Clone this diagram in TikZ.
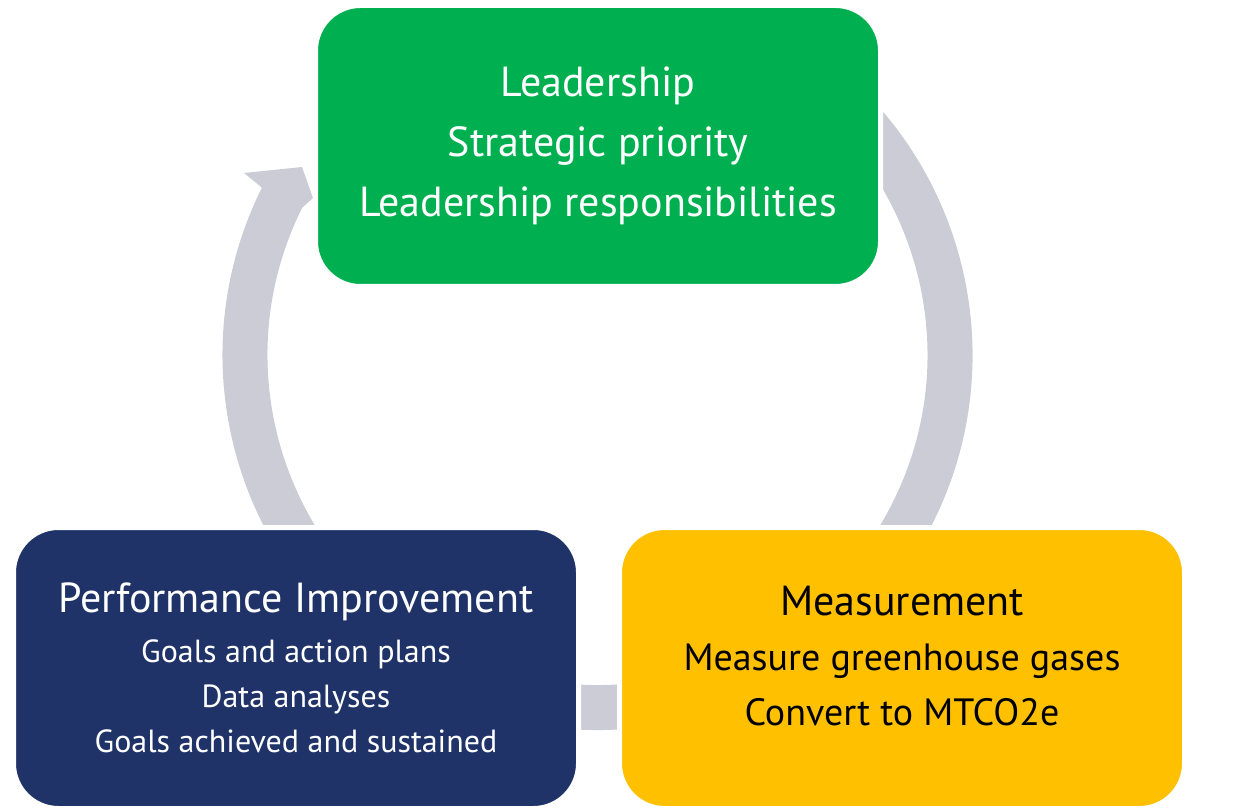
\documentclass[tikz,border=0pt]{standalone}
\usepackage{fontspec}
\setmainfont{PT Sans}
\usepackage{xcolor}
\usetikzlibrary{calc}
\definecolor{leadgreen}{HTML}{00B050}
\definecolor{perfnavy}{HTML}{1F3368}
\definecolor{measgold}{HTML}{FFC000}
\definecolor{cyclegray}{HTML}{CBCCD5}
\newcommand{\stagehead}{\fontsize{42}{50}\selectfont}

\begin{document}
\begin{tikzpicture}[
  x=1pt, y=1pt,
  stage/.style={draw=white, line width=5pt, rounded corners=45pt, minimum width=565pt, minimum height=281pt, align=center, inner sep=0pt},
  lead/.style={stage, fill=leadgreen, text=white, font=\fontsize{42}{60}\selectfont},
  perf/.style={stage, fill=perfnavy, text=white, font=\fontsize{32}{45}\selectfont},
  meas/.style={stage, fill=measgold, text=black, font=\fontsize{38}{55}\selectfont},
  ring/.style={fill=cyclegray, draw=none}
]
  \useasboundingbox (0,0) rectangle (1233,807);
  \coordinate (ctr) at (597.5,452);

  \fill[ring] ($(ctr)+(60:375)$) arc[start angle=60, end angle=-206.5, radius=375]
    -- (244,634) -- (302,640) -- (313,609)
    -- ($(ctr)+(-206.5:330)$) arc[start angle=-206.5, end angle=60, radius=330] -- cycle;

  \node[lead] (lead) at (598,661) {Leadership\\Strategic priority\\Leadership responsibilities};
  \node[perf] (perf) at (296,139) {\stagehead Performance Improvement\\[5pt]Goals and action plans\\Data analyses\\Goals achieved and sustained};
  \node[meas] (meas) at (902,139) {\stagehead Measurement\\Measure greenhouse gases\\Convert to MTCO2e\\[-30pt]\mbox{}};
\end{tikzpicture}
\end{document}
